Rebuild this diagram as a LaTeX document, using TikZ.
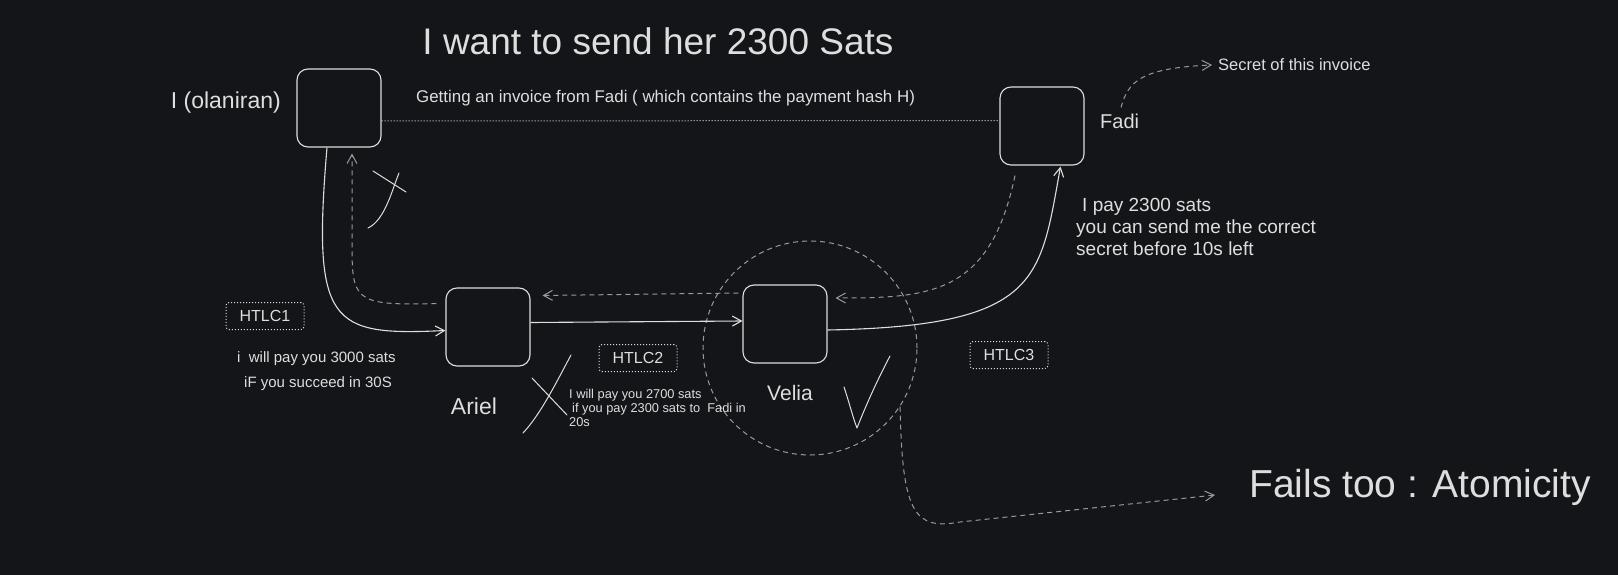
\documentclass[tikz,border=0pt]{standalone}
\usepackage{fontspec}
\setmainfont{Liberation Sans}
\usetikzlibrary{arrows.meta,positioning}
\definecolor{BoardBg}{HTML}{141518}
\definecolor{InkLight}{HTML}{DEDEDE}
\definecolor{InkDim}{HTML}{9A9A9A}
\newcommand{\fsz}[1]{\fontsize{#1}{1.2\dimexpr#1pt\relax}\selectfont}
\begin{document}
\begin{tikzpicture}[x=1pt, y=-1pt,
    peerbox/.style={draw=InkLight, line width=1.1pt, rounded corners=11pt,
                    minimum width=84pt, minimum height=78pt},
    htlcbox/.style={draw=InkLight, dotted, line width=1pt, rounded corners=3pt,
                    minimum width=78pt, minimum height=27pt, text=InkLight, font=\fsz{16}},
    note/.style={text=InkLight, inner sep=0pt},
    pay/.style={-{Straight Barb[length=9pt,width=10pt]}, draw=InkLight, line width=1.1pt},
    back/.style={pay, draw=InkDim, line width=1pt, dash pattern=on 5pt off 4pt},
    scribble/.style={draw=InkLight, line width=1pt, line cap=round, line join=round}
]
\path[fill=BoardBg, use as bounding box] (0,0) rectangle (1618,575);

\node[note, font=\fsz{37}] (title) at (658,41) {I want to send her 2300 Sats};

\node[peerbox] (me) at (339,108) {};
\node[peerbox] (fadi) at (1042,126) {};
\node[peerbox] (ariel) at (488,327) {};
\node[peerbox] (velia) at (785,324) {};
\node[circle, draw=InkDim, line width=1pt, dash pattern=on 5pt off 4pt,
      minimum size=214pt, inner sep=0pt] (zone) at (810,348) {};

\node[note, font=\fsz{23}, anchor=east] (melbl) at (281,103) {I (olaniran)};
\node[note, font=\fsz{16.9}, anchor=west] (invoice) at (416,98)
    {Getting an invoice from Fadi ( which contains the payment hash H)};
\node[note, font=\fsz{20}, anchor=west] (fadilbl) at (1100,121) {Fadi};
\node[note, font=\fsz{16.5}, anchor=west] (secret) at (1218,65) {Secret of this invoice};
\node[note, font=\fontsize{19}{22}\selectfont, align=left, anchor=north west] (fadinote) at (1076,198)
    {\hspace{6pt}I pay 2300 sats\\you can send me the correct\\secret before 10s left};

\node[htlcbox] (htlc1) at (265,316) {HTLC1};
\node[htlcbox] (htlc2) at (638,358) {HTLC2};
\node[htlcbox] (htlc3) at (1009,355) {HTLC3};

\node[note, font=\fontsize{15}{25}\selectfont, align=left, anchor=north west] (offer1) at (237,351)
    {i\ \ will pay you 3000 sats\\\hspace{7pt}iF you succeed in 30S};
\node[note, font=\fsz{23}] (ariellbl) at (474,406) {Ariel};
\node[note, font=\fontsize{12.8}{14}\selectfont, align=left, anchor=north west] (offer2) at (569,389)
    {I will pay you 2700 sats\\\hspace{3pt}if you pay 2300 sats to\ \ Fadi in\\20s};
\node[note, font=\fsz{21}] (velialbl) at (790,393) {Velia};
\node[note, font=\fsz{39}, anchor=west] (fails) at (1249,487) {Fails too : Atomicity};

\draw[dotted, draw=InkLight, line width=1pt] ([yshift=-13pt]me.east) -- ([yshift=5.5pt]fadi.west);

\draw[pay] ([xshift=-12pt]me.south) .. controls (312,325) and (330,336) .. ([yshift=-3.5pt]ariel.west);
\draw[back] ([xshift=-9pt,yshift=23.5pt]ariel.west) .. controls (352,306) and (352,300) .. (352,240)
    -- ([xshift=13pt,yshift=-6pt]me.south);
\draw[pay] ([yshift=4.5pt]ariel.east) -- ([yshift=3pt]velia.west);
\draw[back] ([xshift=-4pt,yshift=31pt]velia.west) -- ([xshift=12pt,yshift=31.5pt]ariel.east);
\draw[back] ([xshift=-27pt,yshift=-10pt]fadi.south) .. controls (990,295) and (930,298)
    .. ([xshift=8pt,yshift=26pt]velia.east);
\draw[pay] ([yshift=-6pt]velia.east) .. controls (1040,326) and (1040,280) .. ([xshift=18.5pt,yshift=-1pt]fadi.south);
\draw[back] ([xshift=21pt,yshift=6pt]fadilbl.north west) .. controls (1128,82) and (1140,68) .. ([xshift=-6pt]secret.west);
\draw[back] (zone.-33) .. controls (902,515) and (915,530) .. (960,522) -- ([xshift=-34pt,yshift=-8pt]fails.west);

\draw[scribble] (373,171) -- (406,192);
\draw[scribble] (399,173) .. controls (392,190) and (385,220) .. (368,228);
\draw[scribble] (532,378) -- (567,415);
\draw[scribble] (571,355) .. controls (555,385) and (540,415) .. (523,433);
\draw[scribble] (844,387) .. controls (850,405) and (853,418) .. (857,428) .. controls (868,400) and (880,375) .. (890,356);
\end{tikzpicture}
\end{document}
